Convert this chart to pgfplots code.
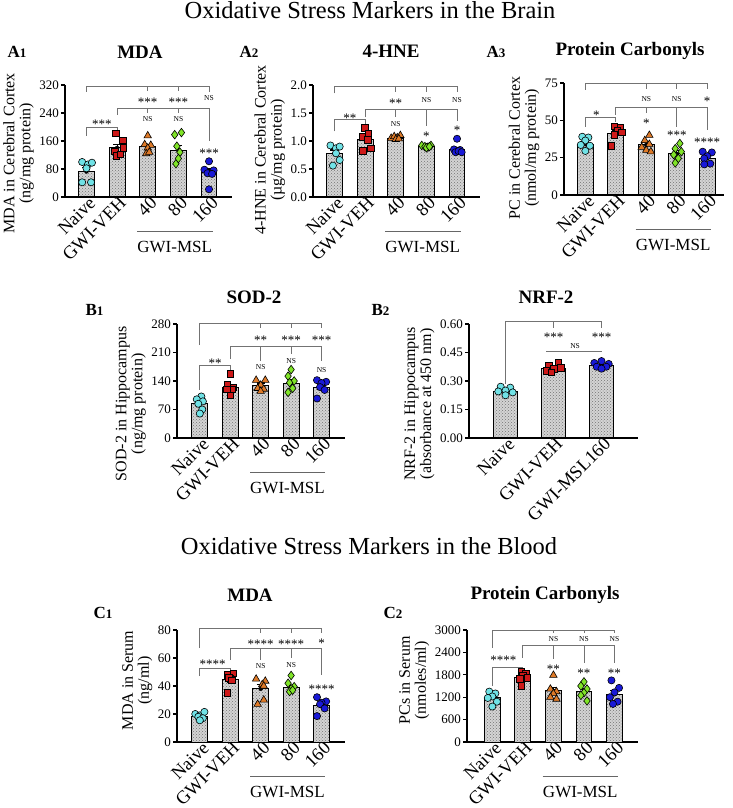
\documentclass[border=0pt]{standalone}
\usepackage{fontspec}
\setmainfont{Liberation Serif}
\usepackage{pgfplots}
\pgfplotsset{compat=1.18}
\usetikzlibrary{patterns}

\definecolor{cNaive}{RGB}{112,226,230}
\definecolor{cVeh}{RGB}{205,25,25}
\definecolor{cM40}{RGB}{222,122,40}
\definecolor{cM80}{RGB}{128,228,40}
\definecolor{cM160}{RGB}{25,25,215}
\definecolor{cBar}{RGB}{212,212,212}

\newcommand{\fs}[1]{\fontsize{#1}{#1}\selectfont}

% 1pt in the picture = 1px of the reference
\pgfplotsset{
  panel/.style={
    scale only axis, clip=false,
    axis x line*=bottom, axis y line*=left,
    axis line style={line width=1.2pt},
    ymin=0, xmin=-0.7, xmax=4.75,
    xtick={0,...,4}, xticklabels={Naive,GWI-VEH,40,80,160},
    xtick style={draw=none},
    ytick style={line width=1.2pt, black},
    tick align=outside, major tick length=4pt,
    xticklabel style={rotate=45, anchor=north east, font=\fs{18.5}, inner sep=0pt, xshift=5pt, yshift=3pt},
    yticklabel style={font=\fs{13}, inner sep=2pt},
    /pgf/number format/assume math mode=true,
    /pgf/number format/1000 sep={},
    scaled y ticks=false,
    ylabel style={align=center, font=\fs{16}},
  },
  bars/.style={ybar, bar width=0.52, draw=black, line width=1pt, fill=cBar,
    postaction={pattern=crosshatch dots, pattern color=black!55}},
  err/.style={only marks, mark=none, error bars/.cd, y dir=plus, y explicit,
    error bar style={black, line width=1.1pt},
    error mark options={rotate=90, mark size=4pt, line width=1.1pt, black}},
  pN/.style={only marks, mark=*, mark size=3.6pt, mark options={fill=cNaive, draw=black, line width=0.6pt}},
  pV/.style={only marks, mark=square*, mark size=3.3pt, mark options={fill=cVeh, draw=black, line width=0.6pt}},
  p40/.style={only marks, mark=triangle*, mark size=4.3pt, mark options={fill=cM40, draw=black, line width=0.6pt}},
  p80/.style={only marks, mark=diamond*, mark size=4.3pt, mark options={fill=cM80, draw=black, line width=0.6pt}},
  p160/.style={only marks, mark=*, mark size=3.6pt, mark options={fill=cM160, draw=black, line width=0.6pt}},
}
\tikzset{
  br/.style={draw=black!55, line width=0.9pt},
  sig/.style={font=\fs{13}, inner sep=0pt},
  ns/.style={font=\fs{7.5}, inner sep=0pt},
}
\newcommand{\msl}{%
  \draw[black!60, line width=0.8pt] ([yshift=-34pt]axis cs:1.65,0) -- ([yshift=-34pt]axis cs:4.12,0);
  \node[font=\fs{17}, inner sep=0pt] at ([yshift=-50pt]axis cs:2.88,0) {GWI-MSL};}

\begin{document}
\begin{tikzpicture}
\useasboundingbox (0,0) rectangle (733pt,808pt);

% ---------------- A1 MDA cortex
\begin{axis}[panel, at={(65pt,611pt)}, anchor=south west, width=167pt, height=112pt,
  ymax=320, ytick={0,80,...,320},
  ylabel={MDA in Cerebral Cortex\\(ng/mg protein)}, ylabel style={at={(ticklabel cs:0.39)}}]
\addplot[bars] coordinates {(0,73) (1,140) (2,144) (3,133) (4,70)};
\addplot[err] coordinates {(0,73) +- (0,12) (1,140) +- (0,10) (2,144) +- (0,7) (3,133) +- (0,15) (4,70) +- (0,11)};
\addplot[pN] coordinates {(-0.14,100) (0.05,93) (0.18,98) (0.0,82) (-0.14,42) (0.15,42)};
\addplot[pV] coordinates {(0.95,182) (1.18,162) (1.2,140) (0.92,130) (0.98,118) (1.1,122)};
\addplot[p40] coordinates {(2.0,175) (1.9,150) (2.1,148) (2.0,140) (1.95,124) (2.05,128)};
\addplot[p80] coordinates {(2.88,178) (3.1,184) (2.95,145) (3.05,128) (2.92,95) (3.0,110)};
\addplot[p160] coordinates {(4.0,102) (3.85,78) (4.15,76) (3.95,68) (4.1,66) (4.0,22)};
\draw[br] (0,300) |- (4,316) -- (4,300);
\draw[br] (2,316) -- (2,303); \draw[br] (3,316) -- (3,303);
\node[sig] at (2,272) {***}; \node[sig] at (3,272) {***}; \node[ns] at (4,282) {NS};
\draw[br] (1,235) |- (4,254) -- (4,160);
\draw[br] (2,254) -- (2,240); \draw[br] (3,254) -- (3,240);
\node[ns] at (2,222) {NS}; \node[ns] at (3,222) {NS}; \node[sig] at (4,126) {***};
\draw[br] (0,175) |- (1,199) -- (1,190);
\node[sig] at (0.5,207) {***};
\msl
\end{axis}

% ---------------- A2 4-HNE cortex
\begin{axis}[panel, at={(313pt,611pt)}, anchor=south west, width=167pt, height=112pt,
  ymax=2, ytick={0,0.5,...,2},
  yticklabel style={/pgf/number format/fixed, /pgf/number format/fixed zerofill, /pgf/number format/precision=1},
  ylabel={4-HNE in Cerebral Cortex\\(µg/mg protein)}, ylabel style={at={(ticklabel cs:0.42)}}]
\addplot[bars] coordinates {(0,0.78) (1,1.03) (2,1.05) (3,0.90) (4,0.84)};
\addplot[err] coordinates {(0,0.78) +- (0,0.06) (1,1.03) +- (0,0.07) (2,1.05) +- (0,0.02) (3,0.90) +- (0,0.01) (4,0.84) +- (0,0.04)};
\addplot[pN] coordinates {(-0.13,0.92) (0.05,0.87) (0.17,0.90) (0.05,0.78) (0.17,0.66) (-0.05,0.56)};
\addplot[pV] coordinates {(1.0,1.24) (0.92,1.08) (1.08,1.02) (1.18,0.87) (0.92,0.82) (1.1,1.14)};
\addplot[p40] coordinates {(1.85,1.05) (1.95,1.08) (2.05,1.06) (2.15,1.1) (2.0,1.03) (2.1,1.04)};
\addplot[p80] coordinates {(2.85,0.92) (2.95,0.90) (3.05,0.89) (3.15,0.92) (3.0,0.88) (3.1,0.90)};
\addplot[p160] coordinates {(4.0,1.04) (3.9,0.85) (4.1,0.84) (3.95,0.80) (4.05,0.82) (4.15,0.80)};
\draw[br] (0,1.85) |- (4,1.98) -- (4,1.88);
\draw[br] (2,1.98) -- (2,1.88); \draw[br] (3,1.98) -- (3,1.88);
\node[sig] at (2,1.67) {**}; \node[ns] at (3,1.73) {NS}; \node[ns] at (4,1.73) {NS};
\draw[br] (1,1.42) |- (4,1.57) -- (4,1.36);
\draw[br] (2,1.57) -- (2,1.42); \draw[br] (3,1.57) -- (3,1.26);
\node[ns] at (2,1.31) {NS}; \node[sig] at (3,1.08) {*}; \node[sig] at (4,1.20) {*};
\draw[br] (0,1.17) |- (1,1.39) -- (1,1.30);
\node[sig] at (0.5,1.41) {**};
\msl
\end{axis}

% ---------------- A3 protein carbonyls cortex
\begin{axis}[panel, at={(564pt,613pt)}, anchor=south west, width=160pt, height=112pt,
  xmax=4.55, ymax=75, ytick={0,25,...,75},
  ylabel={PC in Cerebral Cortex\\(nmol/mg protein)}, ylabel style={at={(ticklabel cs:0.42)}}]
\addplot[bars] coordinates {(0,34) (1,41) (2,33.5) (3,27.5) (4,24.7)};
\addplot[err] coordinates {(0,34) +- (0,1.5) (1,41) +- (0,2) (2,33.5) +- (0,2) (3,27.5) +- (0,2) (4,24.7) +- (0,1.5)};
\addplot[pN] coordinates {(-0.1,39) (0.1,38.5) (0.0,36.5) (-0.15,33.5) (0.15,33) (0.0,29.5)};
\addplot[pV] coordinates {(0.95,46) (1.15,45) (1.05,43) (1.2,42) (0.95,40.5) (0.85,33)};
\addplot[p40] coordinates {(2.1,40) (1.95,36.5) (2.1,34) (1.85,32) (2.0,30) (2.15,29)};
\addplot[p80] coordinates {(3.1,34.5) (2.95,31) (3.15,29) (2.9,27) (3.05,24.5) (2.95,21.5)};
\addplot[p160] coordinates {(3.85,29) (4.15,28.5) (4.0,26) (3.9,24.5) (4.1,21) (3.9,20.5)};
\draw[br] (0,70.5) |- (4,75) -- (4,71);
\draw[br] (2,75) -- (2,71); \draw[br] (3,75) -- (3,71);
\node[ns] at (2,64) {NS}; \node[ns] at (3,64) {NS}; \node[sig] at (4,63) {*};
\draw[br] (1,53.7) |- (4,58.8) -- (4,43.6);
\draw[br] (2,58.8) -- (2,54.8); \draw[br] (3,58.8) -- (3,45.8);
\node[sig] at (2,48) {*}; \node[sig] at (3,40) {***}; \node[sig] at (4,35.5) {****};
\draw[br] (0,45.8) |- (1,52.1) -- (1,49);
\node[sig] at (0.36,53.5) {*};
\msl
\end{axis}

% ---------------- B1 SOD-2
\begin{axis}[panel, at={(177pt,370pt)}, anchor=south west, width=168pt, height=114pt,
  xmin=-0.75, xmax=4.77, ymax=280, ytick={0,70,...,280},
  ylabel={SOD-2 in Hippocampus\\(ng/mg protein)}, ylabel style={at={(ticklabel cs:0.3)}}]
\addplot[bars] coordinates {(0,84) (1,124) (2,130) (3,135) (4,124)};
\addplot[err] coordinates {(0,84) +- (0,6) (1,124) +- (0,7) (2,130) +- (0,5) (3,135) +- (0,9) (4,124) +- (0,6)};
\addplot[pN] coordinates {(0.05,102) (-0.1,95) (0.1,90) (-0.05,84) (0.08,70) (0.0,60)};
\addplot[pV] coordinates {(1.0,158) (0.9,130) (1.1,125) (1.05,120) (0.88,120) (1.0,105)};
\addplot[p40] coordinates {(1.85,142) (2.15,142) (2.0,130) (1.9,122) (2.1,120) (2.0,115)};
\addplot[p80] coordinates {(3.0,168) (2.9,152) (3.1,140) (2.95,136) (3.05,122) (2.9,112)};
\addplot[p160] coordinates {(3.85,142) (4.15,138) (4.0,135) (3.95,125) (4.1,118) (3.85,97)};
\draw[br] (0,228) |- (4,281) -- (4,270);
\draw[br] (2,281) -- (2,270); \draw[br] (3,281) -- (3,270);
\node[sig] at (2,240) {**}; \node[sig] at (3,240) {***}; \node[sig] at (4,240) {***};
\draw[br] (1,195) |- (4,224) -- (4,190);
\draw[br] (2,224) -- (2,190); \draw[br] (3,224) -- (3,207);
\node[ns] at (2,174) {NS}; \node[ns] at (3,190) {NS}; \node[ns] at (4,168) {NS};
\draw[br] (0,119) |- (1,178) -- (1,160);
\node[sig] at (0.5,184) {**};
\msl
\end{axis}

% ---------------- B2 NRF-2
\begin{axis}[panel, at={(469pt,370pt)}, anchor=south west, width=169pt, height=114pt,
  xmin=-0.76, xmax=2.76, xtick={0,1,2}, xticklabels={Naive,GWI-VEH,GWI-MSL160},
  ymax=0.6, ytick={0,0.15,...,0.6},
  yticklabel style={/pgf/number format/fixed, /pgf/number format/fixed zerofill, /pgf/number format/precision=2},
  ylabel={NRF-2 in Hippocampus\\(absorbance at 450 nm)}, ylabel style={at={(ticklabel cs:0.3)}}]
\addplot[bars, bar width=0.5] coordinates {(0,0.247) (1,0.365) (2,0.38)};
\addplot[err] coordinates {(0,0.247) +- (0,0.007) (1,0.365) +- (0,0.007) (2,0.38) +- (0,0.006)};
\addplot[pN] coordinates {(-0.1,0.27) (0.1,0.265) (0.0,0.25) (-0.15,0.245) (0.15,0.24) (0.0,0.225)};
\addplot[pV] coordinates {(0.9,0.38) (1.1,0.395) (1.0,0.365) (0.85,0.355) (1.15,0.37) (0.95,0.345)};
\addplot[p160] coordinates {(1.85,0.395) (2.0,0.405) (2.15,0.39) (1.9,0.375) (2.1,0.375) (2.0,0.365)};
\draw[br] (0,0.283) |- (2,0.614) -- (2,0.578);
\draw[br] (1,0.614) -- (1,0.578);
\node[sig] at (1,0.530) {***}; \node[sig] at (2,0.530) {***};
\draw[br] (0.85,0.453) -- (2.0,0.453);
\node[ns] at (1.45,0.482) {NS};
\end{axis}

% ---------------- C1 MDA serum
\begin{axis}[panel, at={(177pt,66pt)}, anchor=south west, width=168pt, height=112pt,
  xmin=-0.75, xmax=4.77, ymax=80, ytick={0,20,...,80},
  ylabel={MDA in Serum\\(ng/ml)}, ylabel style={at={(ticklabel cs:0.55)}}]
\addplot[bars] coordinates {(0,18.5) (1,44.5) (2,38) (3,39) (4,26.3)};
\addplot[err] coordinates {(0,18.5) +- (0,1) (1,44.5) +- (0,2) (2,38) +- (0,3) (3,39) +- (0,1.5) (4,26.3) +- (0,2)};
\addplot[pN] coordinates {(-0.15,20) (0.0,19) (0.15,21.5) (-0.05,18) (0.1,17) (0.0,15.5)};
\addplot[pV] coordinates {(0.9,48) (1.1,49) (1.0,45) (0.95,46) (1.05,44) (0.9,35)};
\addplot[p40] coordinates {(1.85,45) (2.15,43.5) (2.05,41) (2.1,40) (1.9,27) (2.1,30)};
\addplot[p80] coordinates {(3.0,47.5) (2.9,42) (3.1,39.5) (3.0,38) (2.95,36) (3.05,37)};
\addplot[p160] coordinates {(3.85,32) (4.15,29) (4.0,28) (3.95,27) (4.1,24) (3.85,18.5)};
\draw[br] (0,67) |- (4,81.2) -- (4,77.6);
\draw[br] (2,81.2) -- (2,77.6); \draw[br] (3,81.2) -- (3,77.6);
\node[sig] at (2,69.5) {****}; \node[sig] at (3,69.5) {****}; \node[sig] at (4,70.5) {*};
\draw[br] (1,58.7) |- (4,67) -- (4,48);
\draw[br] (2,67) -- (2,58.7); \draw[br] (3,67) -- (3,60);
\node[ns] at (2,54) {NS}; \node[ns] at (3,55.2) {NS}; \node[sig] at (4,37.5) {****};
\draw[br] (0,47) |- (1,52.8) -- (1,50);
\node[sig] at (0.42,55.5) {****};
\msl
\end{axis}

% ---------------- C2 protein carbonyls serum
\begin{axis}[panel, at={(467pt,66pt)}, anchor=south west, width=171pt, height=112pt,
  xmin=-0.83, xmax=4.77, ymax=3000, ytick={0,600,...,3000},
  ylabel={PCs in Serum\\(nmoles/ml)}, ylabel style={at={(ticklabel cs:0.55)}}]
\addplot[bars] coordinates {(0,1190) (1,1720) (2,1370) (3,1350) (4,1280)};
\addplot[err] coordinates {(0,1190) +- (0,60) (1,1720) +- (0,50) (2,1370) +- (0,100) (3,1350) +- (0,70) (4,1280) +- (0,90)};
\addplot[pN] coordinates {(-0.1,1350) (0.1,1300) (0.0,1220) (-0.15,1180) (0.15,1080) (0.0,950)};
\addplot[pV] coordinates {(0.95,1880) (1.1,1840) (1.0,1790) (1.15,1720) (0.9,1700) (0.95,1500)};
\addplot[p40] coordinates {(2.0,1790) (1.9,1420) (2.1,1350) (2.0,1300) (1.9,1200) (2.1,1150)};
\addplot[p80] coordinates {(3.0,1610) (2.9,1500) (3.1,1420) (3.0,1320) (2.9,1250) (3.1,1100)};
\addplot[p160] coordinates {(3.9,1650) (4.15,1450) (4.0,1330) (3.85,1200) (4.1,1080) (3.95,1020)};
\draw[br] (0,2527) |- (4,3000) -- (4,2911);
\draw[br] (2,3000) -- (2,2911); \draw[br] (3,3000) -- (3,2911);
\node[ns] at (2,2750) {NS}; \node[ns] at (3,2750) {NS}; \node[ns] at (4,2750) {NS};
\draw[br] (1,2259) |- (4,2590) -- (4,2125);
\draw[br] (2,2590) -- (2,2215); \draw[br] (3,2590) -- (3,2125);
\node[sig] at (2,1940) {**}; \node[sig] at (3,1830) {**}; \node[sig] at (4,1830) {**};
\draw[br] (0,1500) |- (1,1991) -- (1,1857);
\node[sig] at (0.36,2180) {****};
\msl
\end{axis}

% ---------------- titles and panel letters
\node[font=\fs{24.5}, anchor=base] at (370pt,789pt) {Oxidative Stress Markers in the Brain};
\node[font=\fs{24.5}, anchor=base] at (369pt,253pt) {Oxidative Stress Markers in the Blood};

\node[font=\fs{19}\bfseries] at (140pt,756pt) {MDA};
\node[font=\fs{19}\bfseries] at (391pt,757pt) {4-HNE};
\node[font=\fs{19}\bfseries] at (630pt,757pt) {Protein Carbonyls};
\node[font=\fs{19}\bfseries] at (254pt,511pt) {SOD-2};
\node[font=\fs{19}\bfseries] at (546pt,511pt) {NRF-2};
\node[font=\fs{19}\bfseries] at (250pt,213pt) {MDA};
\node[font=\fs{19}\bfseries] at (545pt,213pt) {Protein Carbonyls};

\node[font=\fs{17}\bfseries, anchor=west] at (4pt,756pt) {A{\fs{13}1}};
\node[font=\fs{17}\bfseries, anchor=west] at (236pt,756pt) {A{\fs{13}2}};
\node[font=\fs{17}\bfseries, anchor=west] at (483pt,756pt) {A{\fs{13}3}};
\node[font=\fs{17}\bfseries, anchor=west] at (82pt,498pt) {B{\fs{13}1}};
\node[font=\fs{17}\bfseries, anchor=west] at (368pt,498pt) {B{\fs{13}2}};
\node[font=\fs{17}\bfseries, anchor=west] at (90pt,195pt) {C{\fs{13}1}};
\node[font=\fs{17}\bfseries, anchor=west] at (380pt,195pt) {C{\fs{13}2}};
\end{tikzpicture}
\end{document}
